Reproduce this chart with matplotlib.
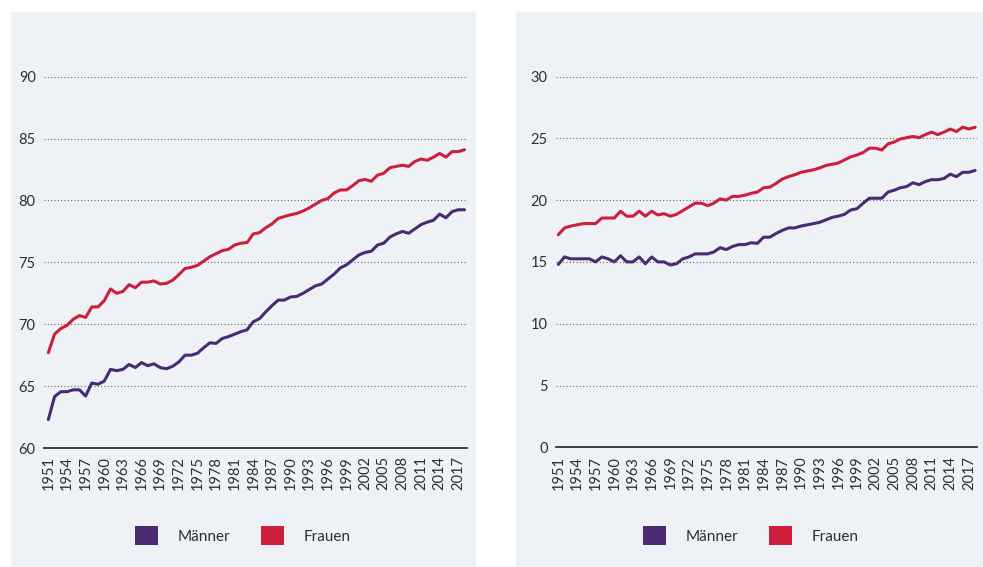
import matplotlib
matplotlib.use("Agg")
from matplotlib import pyplot as plt
from matplotlib.patches import Rectangle, Patch

years = list(range(1951, 2019))

# Lebenserwartung bei Geburt
maenner_geburt = [62.3, 64.15, 64.55, 64.55, 64.7, 64.7, 64.2, 65.25, 65.15, 65.4,
                  66.35, 66.25, 66.35, 66.75, 66.5, 66.9, 66.65, 66.8, 66.5, 66.4,
                  66.6, 66.95, 67.5, 67.5, 67.65, 68.1, 68.5, 68.45, 68.85, 69.0,
                  69.2, 69.4, 69.55, 70.2, 70.45, 71.0, 71.5, 71.95, 71.95, 72.2,
                  72.25, 72.5, 72.8, 73.1, 73.25, 73.65, 74.05, 74.55, 74.8, 75.2,
                  75.6, 75.8, 75.9, 76.4, 76.55, 77.05, 77.3, 77.5, 77.35, 77.7,
                  78.05, 78.25, 78.4, 78.9, 78.6, 79.1, 79.25, 79.25]
frauen_geburt = [67.7, 69.2, 69.65, 69.9, 70.4, 70.7, 70.55, 71.4, 71.4, 71.9,
                 72.85, 72.5, 72.65, 73.2, 72.95, 73.4, 73.4, 73.5, 73.25, 73.3,
                 73.55, 74.0, 74.5, 74.6, 74.75, 75.1, 75.45, 75.7, 75.95, 76.05,
                 76.4, 76.55, 76.6, 77.3, 77.4, 77.8, 78.1, 78.55, 78.7, 78.85,
                 78.95, 79.15, 79.4, 79.7, 80.0, 80.15, 80.6, 80.85, 80.85, 81.2,
                 81.6, 81.7, 81.55, 82.05, 82.2, 82.65, 82.75, 82.85, 82.75, 83.15,
                 83.35, 83.25, 83.5, 83.8, 83.5, 83.95, 83.95, 84.1]

# fernere Lebenserwartung mit 65
maenner_65 = [14.8, 15.4, 15.25, 15.25, 15.25, 15.25, 15.0, 15.4, 15.25, 15.0,
              15.5, 15.0, 15.0, 15.4, 14.85, 15.4, 15.0, 15.0, 14.75, 14.85,
              15.25, 15.4, 15.65, 15.65, 15.65, 15.8, 16.15, 16.0, 16.25, 16.4,
              16.4, 16.55, 16.5, 17.0, 17.0, 17.3, 17.55, 17.75, 17.75, 17.9,
              18.0, 18.1, 18.2, 18.4, 18.6, 18.7, 18.85, 19.2, 19.3, 19.75,
              20.15, 20.15, 20.15, 20.65, 20.8, 21.0, 21.1, 21.4, 21.25, 21.5,
              21.65, 21.65, 21.75, 22.1, 21.9, 22.25, 22.25, 22.4]
frauen_65 = [17.2, 17.75, 17.9, 18.0, 18.1, 18.1, 18.1, 18.55, 18.55, 18.55,
             19.1, 18.7, 18.7, 19.1, 18.7, 19.1, 18.8, 18.9, 18.7, 18.85,
             19.15, 19.45, 19.75, 19.75, 19.55, 19.75, 20.1, 20.0, 20.3, 20.3,
             20.4, 20.55, 20.65, 21.0, 21.05, 21.35, 21.7, 21.9, 22.05, 22.25,
             22.35, 22.45, 22.6, 22.8, 22.9, 23.0, 23.25, 23.5, 23.65, 23.85,
             24.2, 24.2, 24.05, 24.55, 24.7, 24.95, 25.05, 25.15, 25.05, 25.3,
             25.5, 25.3, 25.5, 25.75, 25.55, 25.9, 25.75, 25.9]

tick_years = list(range(1951, 2019, 3))

LILA = "#4a2a72"
ROT = "#cc1f3c"
BG = "#eef2f6"
TEXT = "#2e2e2e"

plt.rcParams['font.family'] = ['Lato', 'DejaVu Sans']

fig = plt.figure(figsize=(9.83, 5.67), dpi=100)
W, H = 983, 567
fig.patches.append(Rectangle((11 / W, 0), 465 / W, 555 / H, transform=fig.transFigure,
                             facecolor=BG, edgecolor="none", zorder=-10))
fig.patches.append(Rectangle((516 / W, 0), 467 / W, 555 / H, transform=fig.transFigure,
                             facecolor=BG, edgecolor="none", zorder=-10))


def panel(rect, m, f, ylim, yticks, xlim, legend_x):
    ax = fig.add_axes(rect)
    ax.patch.set_visible(False)
    ax.plot(years, m, color=LILA, lw=2.2, solid_capstyle="round", zorder=3)
    ax.plot(years, f, color=ROT, lw=2.2, solid_capstyle="round", zorder=3)
    ax.set_xlim(*xlim)
    ax.set_ylim(*ylim)
    ax.set_yticks(yticks)
    ax.set_xticks(tick_years)
    ax.set_xticklabels([str(y) for y in tick_years], rotation=90)
    for s in ["top", "right", "left"]:
        ax.spines[s].set_visible(False)
    ax.spines["bottom"].set_color("#222222")
    ax.spines["bottom"].set_linewidth(1.2)
    ax.tick_params(length=0, labelsize=10.5, colors=TEXT)
    ax.tick_params(axis="y", pad=6)
    ax.tick_params(axis="x", pad=6)
    for yv in yticks[1:]:
        ax.axhline(yv, color="#555555", lw=0.8, dashes=(0.9, 2.1), zorder=1)
    handles = [Patch(facecolor=LILA, label="Männer"), Patch(facecolor=ROT, label="Frauen")]
    fig.legend(handles=handles, loc="center", bbox_to_anchor=(legend_x / W, 1 - 535.5 / H),
               ncol=2, frameon=False, fontsize=11, handlelength=1.5, handleheight=1.5,
               handletextpad=1.3, columnspacing=2.0, labelcolor=TEXT)
    return ax


panel([44 / W, (H - 448) / H, 423 / W, 371.3 / H], maenner_geburt, frauen_geburt,
      (60, 90), [60, 65, 70, 75, 80, 85, 90], (1950.3, 2018.4), 242.5)
panel([556 / W, (H - 447.3) / H, 421 / W, 370.8 / H], maenner_65, frauen_65,
      (0, 30), [0, 5, 10, 15, 20, 25, 30], (1950.63, 2018.3), 751)

fig.savefig("out.png", dpi=100)
